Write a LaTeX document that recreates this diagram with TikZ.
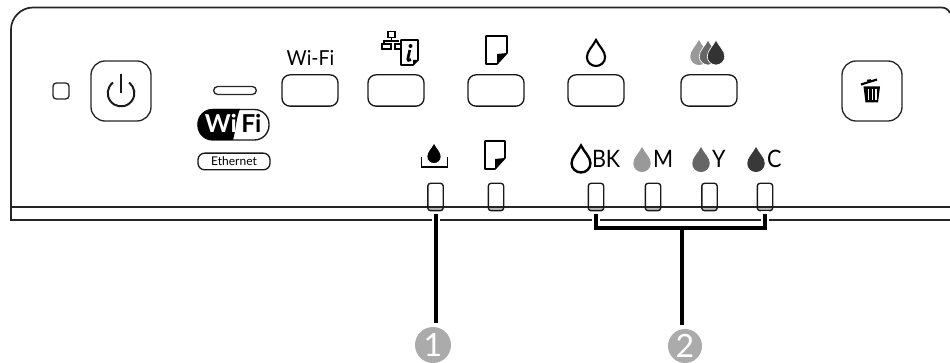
\documentclass[tikz,border=0pt]{standalone}
\usepackage{fontspec}
\setmainfont{Lato}
\newcommand{\dropath}[3]{(#1,#2-0.5*#3) .. controls (#1+0.12*#3,#2-0.25*#3) and (#1+0.35*#3,#2-0.08*#3) .. (#1+0.35*#3,#2+0.16*#3) .. controls (#1+0.35*#3,#2+0.36*#3) and (#1+0.18*#3,#2+0.5*#3) .. (#1,#2+0.5*#3) .. controls (#1-0.18*#3,#2+0.5*#3) and (#1-0.35*#3,#2+0.36*#3) .. (#1-0.35*#3,#2+0.16*#3) .. controls (#1-0.35*#3,#2-0.08*#3) and (#1-0.12*#3,#2-0.25*#3) .. (#1,#2-0.5*#3) -- cycle}
\newcommand{\paperpath}[4]{% x0 y0 x1 y1
  \draw[icon,line join=round] (#1,#2) -- (#3,#2) -- (#3,#4-11) -- (#3-10,#4) -- (#1,#4) -- cycle;
  \fill[black] (#3,#4-11) -- (#3-10,#4) -- (#3-10,#4-10) -- cycle;}
\newcommand{\nar}[1]{\scalebox{0.9}[1]{#1}}
\tikzset{
  x=0.75pt,y=-0.75pt,
  panel/.style={draw=black!85,line width=1pt},
  icon/.style={draw=black,line width=1.2pt},
  bigbtn/.style={draw=black!85,line width=1pt,rounded corners=10.5pt,minimum width=45pt,minimum height=45pt,inner sep=0,outer sep=0},
  widebtn/.style={draw=black!90,line width=1pt,rounded corners=6pt,minimum width=42pt,minimum height=23.5pt,inner sep=0,outer sep=0},
  led/.style={draw=black!90,line width=1pt,rounded corners=2pt,minimum width=11.5pt,minimum height=20.5pt,inner sep=0,outer sep=0},
  lab/.style={anchor=base west,inner sep=0,outer sep=0,font=\fontsize{18pt}{20pt}\selectfont},
  leader/.style={draw=black,line width=3pt},
  halo/.style={draw=white,line width=6pt},
  num/.style={circle,fill=black!33,text=white,minimum size=27pt,inner sep=0,outer sep=0,font=\fontsize{24pt}{24pt}\selectfont},
}
\begin{document}
\begin{tikzpicture}
\clip (0,0) rectangle (950,363);
% panel
\draw[panel,line width=1.3pt] (950,13) .. controls (948,9) and (945,7.5) .. (941,7.5) -- (33,7.5) .. controls (21,7.5) and (11,17.5) .. (11,29.5) -- (11,220) -- (950,220);
\draw[panel] (11,207) -- (950,207);
% left
\node[draw=black!85,line width=1pt,rounded corners=2.5pt,minimum size=12pt,inner sep=0] (pled) at (61,91) {};
\node[bigbtn] (power) at (121,91) {};
\draw[black!90,line width=1.5pt] (113,82.5) arc[start angle=232.7,end angle=-52.7,radius=13.3];
\draw[black!90,line width=1.5pt] (121,74) -- (121,93);
% wifi led and logo
\node[draw=black!85,line width=1pt,rounded corners=3pt,minimum width=32pt,minimum height=6pt,inner sep=0] (wled) at (235,90.5) {};
\draw[black!90,line width=1pt,rounded corners=11pt] (198,109.5) rectangle (269,140);
\fill[black] (240,109) -- (213,109) arc[start angle=-90,end angle=-270,radius=15.5] -- (233,140) .. controls (236,130) and (236,118) .. (240,109) -- cycle;
\node[anchor=base west,inner sep=0,text=white,font=\bfseries\fontsize{18.5pt}{20pt}\selectfont] (wi) at (204.5,133) {Wi};
\node[anchor=base west,inner sep=0,text=black,font=\bfseries\fontsize{18.5pt}{20pt}\selectfont] (fi) at (241,133) {Fi};
\node[draw=black!90,line width=1pt,rounded corners=5pt,minimum width=54pt,minimum height=12.5pt,inner sep=0,font=\fontsize{9pt}{10pt}\selectfont] (eth) at (234,161.5) {Ethernet};
% top buttons
\node[widebtn] (b1) at (310,90.5) {};
\node[widebtn] (b2) at (396,90.5) {};
\node[widebtn] (b3) at (496,90.5) {};
\node[widebtn] (b4) at (596,90.5) {};
\node[widebtn] (b5) at (709,90.5) {};
\node[bigbtn] (trash) at (872,91) {};
% top icons
\node[anchor=base,inner sep=0,font=\fontsize{15.5pt}{17pt}\selectfont] (wifilab) at (310.5,66) {\scalebox{0.94}[1]{Wi-Fi}};
% network icon
\draw[black,line width=1.2pt] (388,31.5) rectangle (395,37.5);
\draw[black,line width=1.2pt] (391.5,37.5) -- (391.5,41) -- (384,41) -- (384,44);
\draw[black,line width=1.2pt] (391.5,41) -- (399,41);
\draw[black,line width=1.2pt] (382,44) rectangle (391,49);
\draw[black,line width=1.2pt] (400,44) -- (395,44) -- (395,49) -- (400,49);
\draw[black,line width=1.3pt,line join=round] (401,40) -- (418,40) -- (418,60) -- (413,65) -- (401,65) -- cycle;
\fill[black] (418,60) -- (413,65) -- (413,60) -- cycle;
\fill[black] (410.5,46) circle[radius=2];
\draw[black,line width=2pt] (409.8,50) -- (407.8,59) .. controls (407.5,60.5) and (409,61) .. (411,59.5);
% paper
\paperpath{486}{36}{507}{64}
% drops top
\draw[black,line width=1.6pt] \dropath{596}{53}{26};
\fill[black!40] \dropath{699}{52.5}{25};
\draw[white,line width=.5pt,fill=black!60] \dropath{708}{52.5}{25};
\draw[white,line width=.5pt,fill=black!80] \dropath{716}{52.5}{25};
% lower icons
\fill[black] \dropath{434}{153.5}{19};
\draw[black,line width=1.3pt] (421.5,157) -- (421.5,167) -- (447.5,167) -- (447.5,157);
\paperpath{485}{141}{505}{169}
\draw[black,line width=1.8pt] \dropath{581}{159}{27};
\fill[black!40] \dropath{642}{159.5}{25};
\fill[black!60] \dropath{701}{159.5}{25};
\fill[black!78] \dropath{756}{159.5}{25};
\node[lab] (tbk) at (592,168) {\nar{BK}};
\node[lab] (tm) at (653,168) {\nar{M}};
\node[lab] (ty) at (712,168) {\nar{Y}};
\node[lab] (tc) at (767,168) {\nar{C}};
% LED gray feet
\foreach \xx in {435.5,496,596,653,709.5,765}
  \fill[black!25] (\xx-7,208) rectangle (\xx+7,210.5);
\node[led] (l1) at (435.5,197) {};
\node[led] (l2) at (496,197) {};
\node[led] (l3) at (596,197) {};
\node[led] (l4) at (653,197) {};
\node[led] (l5) at (709.5,197) {};
\node[led] (l6) at (765,197) {};
% numbers
\node[num] (n1) at (433,345) {1};
\node[num,minimum size=25.5pt] (n2) at (685,346) {2};
% leaders
\coordinate (j) at (682,228);
\draw[halo,shorten <=3pt] (l1.south) -- (l1.south |- n1.north);
\draw[halo,shorten <=3pt] (l3.south) -- (l3.south |- j) -- (l6.south |- j) -- (l6.south);
\draw[leader,shorten <=2.5pt,shorten >=3pt] (l1.south) -- (l1.south |- n1.north);
\draw[leader,shorten <=2.5pt,shorten >=2.5pt,line join=miter] (l3.south) -- (l3.south |- j) -- (l6.south |- j) -- (l6.south);
\draw[leader,shorten >=3pt] (j) -- (j |- n2.north);
% trash icon
\draw[black,line width=1.6pt] (861,84.5) -- (877,79.5);
\draw[black,line width=1.2pt] (867,80.5) -- (871,80);
\fill[black] (863.5,86.5) -- (880,86.5) -- (878,102.5) -- (865.5,102.5) -- cycle;
\foreach \xx in {868,871.7,875.4}
  \fill[white] (\xx,89) rectangle (\xx+1.3,100.5);
\end{tikzpicture}
\end{document}
